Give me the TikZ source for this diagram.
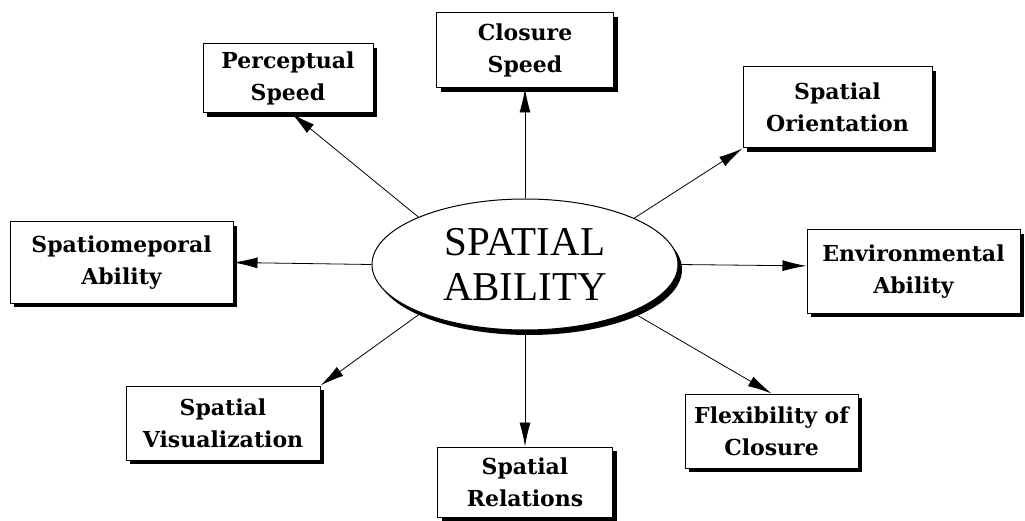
\documentclass[tikz,border=0pt]{standalone}
\usepackage{fontspec}
\usetikzlibrary{shapes.geometric,shadows,arrows.meta}
\newfontfamily\cajafont{DejaVu Serif}
\newfontfamily\centrofont{Liberation Serif}
\begin{document}
\begin{tikzpicture}[x=1pt,y=-1pt,
    caja/.style={draw, line width=1pt, fill=white, align=center, inner sep=2pt,
      font=\cajafont\bfseries\fontsize{22}{32}\selectfont,
      drop shadow={shadow xshift=4pt, shadow yshift=-4pt, opacity=1, fill=black}},
    flecha/.style={line width=0.8pt, -{Latex[length=24pt,width=11pt]}}]
  \useasboundingbox (0,0) rectangle (1025,521);
  %——————————————————————————————————————————————
  % Elipse central
  %——————————————————————————————————————————————
  \node[ellipse, draw, line width=1pt, fill=white, inner sep=0pt,
    minimum width=306, minimum height=131, align=center,
    font=\centrofont\fontsize{41}{45}\selectfont,
    drop shadow={shadow xshift=4pt, shadow yshift=-5pt, opacity=1, fill=black}]
    (el) at (525,264.5) {SPATIAL\\ABILITY};

  %——————————————————————————————————————————————
  % Cajas alrededor
  %——————————————————————————————————————————————
  \node[caja, minimum width=170, minimum height=69] (ps) at (288,78.5) {Perceptual\\Speed};
  \node[caja, minimum width=177, minimum height=75] (cs) at (525,50.5) {Closure\\Speed};
  \node[caja, minimum width=189, minimum height=81] (so) at (837.5,107.5) {Spatial\\Orientation};
  \node[caja, minimum width=223, minimum height=81] (sa) at (121.5,262.5) {Spatiomeporal\\Ability};
  \node[caja, minimum width=213, minimum height=83] (ea) at (913.5,271.5) {Environmental\\Ability};
  \node[caja, minimum width=194, minimum height=74] (sv) at (223,423) {Spatial\\Visualization};
  \node[caja, minimum width=175, minimum height=70] (sr) at (525,482) {Spatial\\Relations};
  \node[caja, minimum width=173, minimum height=74] (fc) at (771.5,431) {Flexibility of\\Closure};

  %——————————————————————————————————————————————
  % Flechas desde la elipse
  %——————————————————————————————————————————————
  \draw[flecha] (el.156) -- (ps.276);
  \draw[flecha] (el.north) -- (cs.south);
  \draw[flecha] (el.23) -- (so.south west);
  \draw[flecha] (el.west) -- (sa.east);
  \draw[flecha] (el.east) -- (ea.177);
  \draw[flecha] (el.205) -- (sv.north east);
  \draw[flecha] (el.south) -- (sr.north);
  \draw[flecha] (el.336.5) -- (fc.north);
\end{tikzpicture}
\end{document}
